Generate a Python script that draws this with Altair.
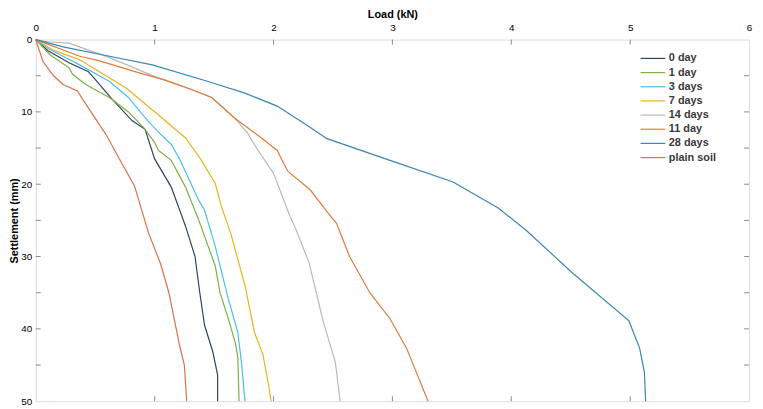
import altair as alt
import pandas as pd

series_names = ["0 day", "1 day", "3 days", "7 days", "14 days", "11 day", "28 days", "plain soil"]
series_colors = ["#2B4565", "#7FAE45", "#4DBEEE", "#EDB120", "#B9B9B9", "#E07B3C", "#3A86B4", "#D9714B"]

load_0day = [0, 0.10, 0.28, 0.44, 0.50, 0.64, 0.81, 0.92, 1.00, 1.14, 1.26, 1.34, 1.38, 1.42, 1.49, 1.53, 1.53]
sett_0day = [0, 1.5, 3.2, 4.4, 5.5, 8.2, 11.2, 12.4, 16.5, 20.4, 25.8, 30.0, 35.0, 39.5, 43.2, 46.4, 50]

load_1day = [0, 0.12, 0.28, 0.31, 0.42, 0.62, 0.78, 0.91, 1.00, 1.03, 1.14, 1.26, 1.37, 1.51, 1.55, 1.62, 1.68, 1.70, 1.71]
sett_1day = [0, 2.1, 3.9, 4.8, 6.2, 8.0, 10.0, 12.2, 14.2, 15.3, 16.7, 20.4, 24.9, 31.3, 35.0, 38.6, 42.0, 44.0, 50]

load_3days = [0, 0.10, 0.23, 0.37, 0.62, 0.78, 0.92, 1.02, 1.14, 1.21, 1.28, 1.37, 1.42, 1.51, 1.62, 1.70, 1.73, 1.76]
sett_3days = [0, 1.2, 2.3, 3.5, 5.8, 8.0, 10.8, 12.6, 14.5, 16.5, 19.0, 22.2, 23.6, 28.6, 35.9, 40.5, 44.6, 50]

load_7days = [0, 0.14, 0.37, 0.76, 1.06, 1.26, 1.39, 1.51, 1.56, 1.64, 1.76, 1.84, 1.91, 1.95, 1.98]
sett_7days = [0, 1.4, 2.8, 6.7, 10.8, 13.6, 16.6, 19.9, 23.0, 26.8, 34.0, 40.5, 43.5, 47.0, 50]

load_14days = [0, 0.10, 0.28, 0.62, 1.03, 1.31, 1.48, 1.67, 1.78, 1.87, 2.00, 2.14, 2.19, 2.30, 2.42, 2.52, 2.56]
sett_14days = [0, 0.3, 0.5, 2.5, 5.3, 6.9, 8.0, 10.8, 12.9, 15.3, 18.5, 24.5, 26.3, 30.9, 39.1, 44.6, 50]

load_11day = [0, 0.37, 0.53, 0.87, 1.09, 1.31, 1.48, 1.67, 1.89, 2.03, 2.12, 2.31, 2.45, 2.53, 2.64, 2.81, 2.98, 3.12, 3.30]
sett_11day = [0, 2.3, 2.9, 4.6, 5.6, 6.9, 8.0, 10.8, 13.5, 15.3, 18.2, 20.8, 23.8, 25.4, 30.0, 35.0, 38.6, 42.7, 50]

load_28days = [0, 0.23, 0.62, 0.98, 1.45, 1.76, 2.03, 2.25, 2.45, 2.98, 3.51, 3.89, 4.12, 4.51, 4.99, 5.08, 5.12, 5.13]
sett_28days = [0, 1.0, 2.3, 3.5, 5.8, 7.4, 9.2, 11.5, 13.7, 16.7, 19.7, 23.3, 26.3, 32.2, 38.9, 42.7, 46.0, 50]

load_plain = [0, 0.06, 0.15, 0.23, 0.35, 0.46, 0.59, 0.72, 0.83, 0.95, 1.05, 1.12, 1.21, 1.25, 1.27]
sett_plain = [0, 3.0, 5.0, 6.2, 7.1, 9.9, 13.1, 17.0, 20.2, 26.8, 31.0, 35.0, 42.3, 45.0, 50]

x_ticks = [1, 2, 3, 4, 5]
y_ticks = [5, 10, 15, 20, 25, 30, 35, 40, 45]

all_loads = [load_0day, load_1day, load_3days, load_7days, load_14days, load_11day, load_28days, load_plain]
all_setts = [sett_0day, sett_1day, sett_3days, sett_7days, sett_14days, sett_11day, sett_28days, sett_plain]

rows = []
for name, ls, ss in zip(series_names, all_loads, all_setts):
    for i, (l, s) in enumerate(zip(ls, ss)):
        rows.append({"series": name, "load": l, "settlement": s, "idx": i})
df = pd.DataFrame(rows)

W, H = 720, 365
axis_gray = "#8A8A8A"
label_color = "#3A3A3A"
font = "Liberation Sans"

xscale = alt.Scale(domain=[0, 6], nice=False, zero=False)
yscale = alt.Scale(domain=[0, 50], nice=False, reverse=True)

lines = alt.Chart(df).mark_line(strokeWidth=1.2).encode(
    x=alt.X("load:Q", scale=xscale,
            axis=alt.Axis(orient="top", title="Load (kN)", values=[0, 1, 2, 3, 4, 5, 6], format="d",
                          tickSize=0, labelPadding=7, domain=False, grid=False,
                          titleY=-25, titleBaseline="middle", labelFlush=False)),
    y=alt.Y("settlement:Q", scale=yscale,
            axis=alt.Axis(title="Settlement (mm)", values=list(range(0, 51, 5)), format="d",
                          tickSize=0, labelPadding=4, domain=False, grid=False,
                          titleX=-21, titleBaseline="middle", titleAlign="center",
                          labelFlush=False)),
    color=alt.Color("series:N", sort=series_names,
                    scale=alt.Scale(domain=series_names, range=series_colors),
                    legend=alt.Legend(title=None, orient="none", legendX=617, legendY=13,
                                      symbolType="M-2.5,0H2.5", symbolSize=100, symbolStrokeWidth=1.2,
                                      labelFontSize=11, labelFontWeight="bold", labelColor=label_color,
                                      labelFont=font, rowPadding=3.3, labelOffset=10)),
    order="idx:Q",
)

xt = pd.DataFrame({"t": x_ticks})
yt = pd.DataFrame({"t": y_ticks})

top_ticks = alt.Chart(xt).mark_rule(color=axis_gray, strokeWidth=1).encode(
    x=alt.X("t:Q", scale=xscale), y=alt.value(0), y2=alt.value(5))
bot_ticks = alt.Chart(xt).mark_rule(color=axis_gray, strokeWidth=1).encode(
    x=alt.X("t:Q", scale=xscale), y=alt.value(H - 5), y2=alt.value(H))
left_ticks = alt.Chart(yt).mark_rule(color=axis_gray, strokeWidth=1).encode(
    y=alt.Y("t:Q", scale=yscale), x=alt.value(0), x2=alt.value(5))
right_ticks = alt.Chart(yt).mark_rule(color=axis_gray, strokeWidth=1).encode(
    y=alt.Y("t:Q", scale=yscale), x=alt.value(W - 5), x2=alt.value(W))

chart = alt.layer(lines, top_ticks, bot_ticks, left_ticks, right_ticks).properties(
    width=W, height=H,
    autosize=alt.AutoSizeParams(type="none"),
    padding={"left": 28, "top": 30, "right": 6, "bottom": 6},
).configure_view(
    stroke=axis_gray, strokeWidth=1
).configure_axis(
    labelFont=font, titleFont=font, labelFontSize=11, titleFontSize=12,
    labelFontWeight="bold", titleFontWeight="bold",
    labelColor=label_color, titleColor=label_color,
).configure(background="white")

chart.save("out.html", embed_options={"renderer": "svg", "actions": False})
